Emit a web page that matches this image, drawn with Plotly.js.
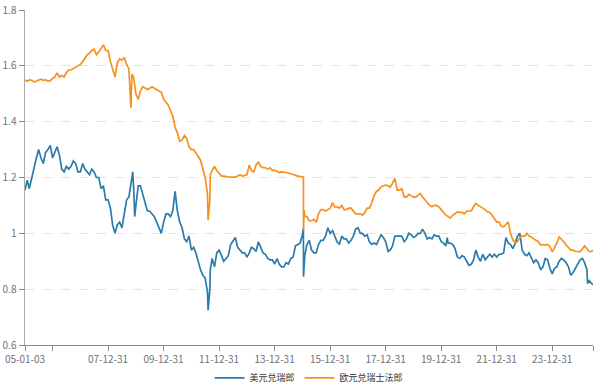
<!DOCTYPE html>
<html>
<head>
<meta charset="utf-8">
<script src="https://cdn.plot.ly/plotly-3.0.1.min.js"></script>
<style>html,body{margin:0;padding:0;background:#fff;}#chart{width:600px;height:384px;}</style>
</head>
<body>
<div id="chart"></div>
<script>
// Series names
const seriesNames = ['美元兑瑞郎', '欧元兑瑞士法郎'];

// Monthly values (first trading day of each month), Jan 2005 .. Jun 2025
const usdchf = [
  // 2005
  1.155,1.19,1.16,1.20,1.24,1.27,1.30,1.27,1.25,1.29,1.30,1.315,
  // 2006
  1.27,1.29,1.31,1.28,1.23,1.22,1.24,1.23,1.24,1.26,1.25,1.22,
  // 2007
  1.22,1.25,1.23,1.22,1.21,1.23,1.22,1.20,1.20,1.16,1.17,1.12,
  // 2008
  1.12,1.09,1.03,1.00,1.03,1.04,1.02,1.07,1.12,1.13,1.19,1.17,
  // 2009
  1.10,1.17,1.17,1.14,1.11,1.08,1.08,1.07,1.06,1.04,1.02,1.00,
  // 2010
  1.04,1.07,1.07,1.06,1.08,1.15,1.08,1.04,1.02,0.98,0.97,0.99,
  // 2011
  0.94,0.95,0.93,0.90,0.87,0.85,0.84,0.79,0.80,0.91,0.88,0.93,
  // 2012
  0.94,0.92,0.90,0.91,0.92,0.96,0.975,0.985,0.95,0.94,0.93,0.93,
  // 2013
  0.915,0.93,0.95,0.945,0.935,0.97,0.95,0.93,0.925,0.91,0.905,0.905,
  // 2014
  0.89,0.91,0.89,0.88,0.88,0.895,0.89,0.91,0.915,0.955,0.96,0.965,
  // 2015
  0.995,0.92,0.96,0.975,0.94,0.93,0.93,0.96,0.975,0.975,0.99,1.02,
  // 2016
  1.00,1.01,0.99,0.97,0.96,0.99,0.98,0.98,0.965,0.975,0.99,1.015,
  // 2017
  1.02,1.00,1.00,0.99,0.995,0.97,0.96,0.965,0.96,0.975,0.995,0.985,
  // 2018
  0.97,0.935,0.94,0.955,0.99,0.99,0.99,0.99,0.97,0.98,1.00,0.995,
  // 2019
  0.985,0.99,1.00,1.00,1.015,1.00,0.98,0.985,0.98,0.995,0.99,0.99,
  // 2020
  0.97,0.965,0.955,0.965,0.965,0.96,0.945,0.915,0.91,0.92,0.915,0.90,
  // 2021
  0.885,0.89,0.905,0.94,0.915,0.90,0.925,0.905,0.915,0.925,0.915,0.925,
  // 2022
  0.915,0.925,0.925,0.93,0.985,0.965,0.96,0.945,0.965,0.99,1.00,0.94,
  // 2023
  0.925,0.92,0.93,0.91,0.895,0.905,0.895,0.87,0.88,0.91,0.905,0.875,
  // 2024
  0.855,0.875,0.88,0.90,0.91,0.905,0.895,0.88,0.85,0.86,0.875,0.885,
  // 2025
  0.905,0.91,0.895,0.87,0.83,0.82
];

const eurchf = [
  // 2005
  1.549,1.545,1.55,1.548,1.542,1.545,1.55,1.552,1.548,1.55,1.545,1.547,
  // 2006
  1.555,1.56,1.575,1.56,1.565,1.56,1.575,1.585,1.585,1.59,1.595,1.598,
  // 2007
  1.605,1.615,1.625,1.64,1.645,1.655,1.66,1.64,1.65,1.665,1.675,1.655,
  // 2008
  1.655,1.615,1.59,1.56,1.61,1.625,1.62,1.63,1.605,1.59,1.54,1.56,
  // 2009
  1.50,1.48,1.51,1.525,1.52,1.515,1.52,1.525,1.52,1.515,1.51,1.505,
  // 2010
  1.48,1.47,1.46,1.44,1.42,1.38,1.36,1.33,1.335,1.35,1.34,1.31,
  // 2011
  1.30,1.30,1.29,1.275,1.262,1.23,1.20,1.14,1.12,1.225,1.24,1.225,
  // 2012
  1.215,1.205,1.205,1.203,1.201,1.201,1.201,1.201,1.205,1.21,1.205,1.207,
  // 2013
  1.21,1.245,1.225,1.22,1.245,1.255,1.24,1.235,1.235,1.23,1.235,1.225,
  // 2014
  1.226,1.222,1.218,1.22,1.22,1.218,1.216,1.214,1.21,1.208,1.205,1.203,
  // 2015
  1.202,1.06,1.06,1.045,1.045,1.05,1.04,1.07,1.085,1.085,1.08,1.085,
  // 2016
  1.09,1.11,1.095,1.095,1.09,1.10,1.085,1.085,1.09,1.09,1.08,1.07,
  // 2017
  1.07,1.07,1.065,1.075,1.09,1.09,1.11,1.135,1.15,1.155,1.167,1.17,
  // 2018
  1.173,1.17,1.165,1.18,1.197,1.155,1.155,1.16,1.13,1.13,1.14,1.135,
  // 2019
  1.13,1.13,1.135,1.143,1.13,1.12,1.113,1.10,1.095,1.10,1.10,1.095,
  // 2020
  1.085,1.075,1.065,1.06,1.055,1.065,1.07,1.077,1.075,1.075,1.07,1.08,
  // 2021
  1.08,1.08,1.095,1.107,1.10,1.095,1.09,1.085,1.077,1.075,1.065,1.05,
  // 2022
  1.04,1.04,1.025,1.023,1.03,1.04,1.00,0.976,0.965,0.97,0.985,0.99,
  // 2023
  0.99,1.00,0.99,0.987,0.98,0.976,0.97,0.958,0.96,0.958,0.96,0.952,
  // 2024
  0.934,0.95,0.965,0.987,0.98,0.97,0.958,0.95,0.94,0.94,0.935,0.935,
  // 2025
  0.934,0.945,0.955,0.945,0.935,0.935
];

// Extra daily observations around sharp moves
const usdExtraDates = ['2008-11-21','2008-12-17','2011-08-09','2011-09-07','2015-01-14','2015-01-15','2015-01-23','2020-03-20','2025-04-10','2025-06-20'];
const usdExtraVals  = [1.22, 1.06, 0.725, 0.87, 1.02, 0.845, 0.87, 0.985, 0.82, 0.815];
const eurExtraDates = ['2008-10-27','2008-11-10','2011-08-09','2011-09-07','2015-01-14','2015-01-15','2015-01-22','2025-06-20'];
const eurExtraVals  = [1.45, 1.57, 1.047, 1.21, 1.202, 1.01, 1.083, 0.94];

// Axis tick labels
const xTickDates  = ['2005-01-03','2005-12-30','2007-12-31','2009-12-31','2011-12-31','2013-12-31','2015-12-31','2017-12-31','2019-12-31','2021-12-31','2023-12-31','2025-06-20'];
const xTickLabels = ['05-01-03','','07-12-31','09-12-31','11-12-31','13-12-31','15-12-31','17-12-31','19-12-31','21-12-31','23-12-31',''];
const yTickVals   = [0.6,0.8,1.0,1.2,1.4,1.6,1.8];
const yTickLabels = ['0.6','0.8','1','1.2','1.4','1.6','1.8'];

function monthDates(n){
  const out=[];
  for(let i=0;i<n;i++){
    const y=2005+Math.floor(i/12), m=(i%12)+1;
    out.push(i===0 ? '2005-01-03' : `${y}-${String(m).padStart(2,'0')}-01`);
  }
  return out;
}
function merge(dates, vals, exD, exV){
  const pts = dates.map((d,i)=>[d,vals[i]]).concat(exD.map((d,i)=>[d,exV[i]]));
  pts.sort((a,b)=> a[0]<b[0]?-1:(a[0]>b[0]?1:0));
  return {x:pts.map(p=>p[0]), y:pts.map(p=>p[1])};
}

const usd = merge(monthDates(usdchf.length), usdchf, usdExtraDates, usdExtraVals);
const eur = merge(monthDates(eurchf.length), eurchf, eurExtraDates, eurExtraVals);

const font = 'Noto Sans CJK SC, Noto Sans, sans-serif';
const traces = [
  {x:usd.x, y:usd.y, name:seriesNames[0], type:'scatter', mode:'lines', line:{color:'#2b7bab', width:1.7}},
  {x:eur.x, y:eur.y, name:seriesNames[1], type:'scatter', mode:'lines', line:{color:'#f7901e', width:1.7}}
];

const layout = {
  width:600, height:384,
  margin:{l:25, r:7, t:10, b:39, autoexpand:false},
  paper_bgcolor:'#fff', plot_bgcolor:'#fff',
  font:{family:font, size:10, color:'#6e7079'},
  showlegend:true,
  legend:{orientation:'h', x:0.5, xanchor:'center', yref:'container', y:0.016, yanchor:'middle', font:{size:9, color:'#333'}},
  xaxis:{
    type:'date', range:['2005-01-03','2025-06-20'],
    tickmode:'array', tickvals:xTickDates, ticktext:xTickLabels,
    ticks:'outside', ticklen:5, tickcolor:'#8a8a8a',
    showline:true, linecolor:'#8a8a8a', linewidth:1,
    showgrid:false, zeroline:false, tickfont:{size:10, color:'#6e7079'}
  },
  yaxis:{
    range:[0.6,1.8], tickmode:'array', tickvals:yTickVals, ticktext:yTickLabels,
    ticks:'outside', ticklen:5, tickcolor:'#8a8a8a',
    showline:true, linecolor:'#aaaaaa', linewidth:1.5,
    showgrid:true, gridcolor:'#e3e3e3', griddash:'dash', zeroline:false,
    tickfont:{size:10, color:'#6e7079'}
  }
};

Plotly.newPlot('chart', traces, layout, {displayModeBar:false, staticPlot:true});
</script>
</body>
</html>
